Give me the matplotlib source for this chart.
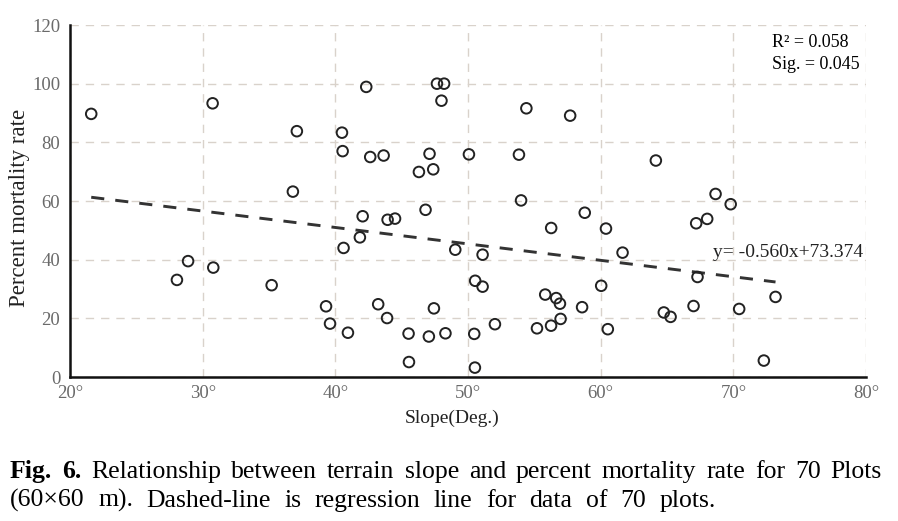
import numpy as np
import matplotlib
matplotlib.use('Agg')
import matplotlib.pyplot as plt

plt.rcParams['font.family'] = ['Liberation Serif', 'DejaVu Serif']

# slope (deg) and percent mortality rate
slope = [21.6, 30.75, 37.1, 36.8, 40.5, 40.55, 42.33, 42.63, 43.64, 46.3,
         47.1, 47.38, 46.8, 47.66, 48.2, 48.0, 42.06, 43.94, 44.5, 41.85,
         40.62, 28.06, 28.9, 30.8, 35.2, 39.3, 39.6, 40.95, 43.23, 43.9,
         45.52, 45.55, 47.05, 47.43, 48.3, 54.4, 57.7, 50.07, 53.84, 64.16,
         54.0, 58.8, 68.66, 69.8, 56.27, 60.4, 67.2, 68.03, 49.04, 51.1,
         61.65, 67.3, 50.54, 51.1, 55.82, 56.65, 56.93, 58.6, 60.04, 64.76,
         65.27, 67.0, 70.44, 73.18, 72.3, 50.47, 50.52, 52.03, 55.2, 56.26,
         56.98, 60.54]
mortality = [89.7, 93.3, 83.8, 63.2, 83.3, 77.0, 98.9, 75.0, 75.5, 69.9,
             76.1, 70.8, 57.0, 100.0, 100.0, 94.2, 54.8, 53.6, 54.0, 47.6,
             44.0, 33.1, 39.5, 37.3, 31.3, 24.1, 18.2, 15.1, 24.8, 20.1,
             14.8, 5.1, 13.8, 23.4, 14.9, 91.6, 89.1, 75.9, 75.8, 73.8,
             60.2, 56.0, 62.4, 58.9, 50.8, 50.6, 52.4, 53.9, 43.4, 41.7,
             42.4, 34.1, 32.8, 30.8, 28.1, 26.9, 25.0, 23.8, 31.1, 22.0,
             20.5, 24.2, 23.2, 27.3, 5.6, 14.7, 3.2, 18.0, 16.6, 17.5,
             19.8, 16.3]

slope_coef = -0.560
intercept = 73.374
x_ticks = [20, 30, 40, 50, 60, 70, 80]
y_ticks = [0, 20, 40, 60, 80, 100, 120]

fig = plt.figure(figsize=(8.98, 5.21), dpi=100)
ax = fig.add_axes([70 / 898, 144 / 521, 796 / 898, 352 / 521])

ax.scatter(slope, mortality, s=58, facecolors='none', edgecolors='#222222',
           linewidths=1.4, zorder=3)

xs = np.array([min(slope), max(slope)])
ax.plot(xs, slope_coef * xs + intercept, color='#333333', lw=2.1,
        linestyle=(0, (4.5, 3.8)), zorder=2)

ax.set_xlim(20, 80)
ax.set_ylim(0, 120)
ax.set_xticks(x_ticks)
ax.set_xticklabels([str(v) + '°' for v in x_ticks])
ax.set_yticks(y_ticks)
ax.tick_params(length=0, labelsize=13.5, labelcolor='#6a6a6a')
ax.tick_params(axis='x', pad=6)
ax.tick_params(axis='y', pad=7)
ax.grid(True, linestyle=(0, (6, 5)), color='#d9d2cb', lw=1.0, zorder=0)
for sp in ['top', 'right']:
    ax.spines[sp].set_visible(False)
for sp in ['left', 'bottom']:
    ax.spines[sp].set_linewidth(1.8)
    ax.spines[sp].set_color('#111111')
ax.set_axisbelow(True)

ax.text(72.9, 114.2, 'R² = 0.058', fontsize=13, va='center', ha='left')
ax.text(72.9, 106.4, 'Sig. = 0.045', fontsize=13, va='center', ha='left')
ax.text(68.45, 42.3, 'y= -0.560x+73.374', fontsize=14, va='center', ha='left',
        color='#222222')

fig.text(452 / 898, 1 - 418 / 521, 'Slope(Deg.)', fontsize=14, ha='center',
         va='center', color='#222222')
fig.text(20 / 898, 1 - 208 / 521, 'Percent mortality rate', fontsize=16.5,
         rotation=90, ha='center', va='center', color='#222222')

# caption, justified word by word
line1 = [('Fig.', 'bold'), ('6.', 'bold'), ('Relationship', 'normal'),
         ('between', 'normal'), ('terrain', 'normal'), ('slope', 'normal'),
         ('and', 'normal'), ('percent', 'normal'), ('mortality', 'normal'),
         ('rate', 'normal'), ('for', 'normal'), ('70', 'normal'),
         ('Plots', 'normal')]
line2 = [('(60×60', 'normal'), ('m).', 'normal'), ('Dashed-line', 'normal'),
         ('is', 'normal'), ('regression', 'normal'), ('line', 'normal'),
         ('for', 'normal'), ('data', 'normal'), ('of', 'normal'),
         ('70', 'normal'), ('plots.', 'normal')]

renderer = fig.canvas.get_renderer()


def place_line(words, y, left=10, right=882):
    texts = []
    widths = []
    for w, weight in words:
        t = fig.text(0, y, w, fontsize=18.5, fontweight=weight, ha='left',
                     va='baseline', color='black')
        texts.append(t)
        widths.append(t.get_window_extent(renderer).width)
    gap = (right - left - sum(widths)) / (len(words) - 1)
    x = left
    for t, wd in zip(texts, widths):
        t.set_x(x / 898)
        x += wd + gap


place_line(line1, 1 - 478 / 521)
place_line(line2, 1 - 507 / 521, right=716)

fig.savefig('out.png', dpi=100)
